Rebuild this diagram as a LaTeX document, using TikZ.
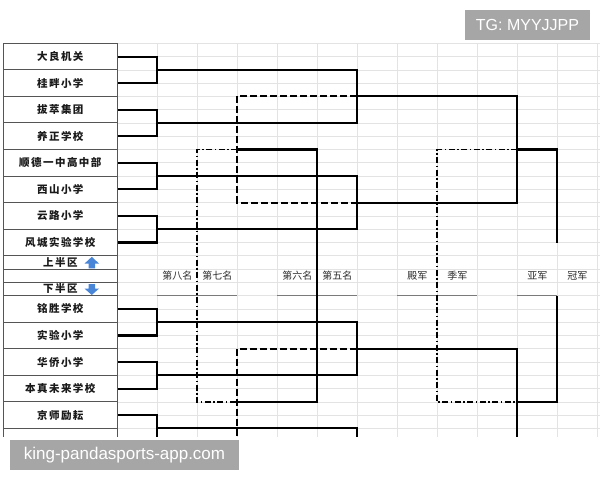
\documentclass[tikz,border=0pt]{standalone}
\usepackage{fontspec}
\setmainfont{Liberation Sans}
\newfontfamily\cjk{Noto Sans CJK SC}
\newfontfamily\cjkteam{Noto Sans CJK SC}[LetterSpace=14]
\definecolor{gridc}{HTML}{E3E3E3}
\definecolor{boxc}{HTML}{555555}
\definecolor{teamc}{HTML}{1A1A1A}
\definecolor{rankc}{HTML}{2E2E2E}
\definecolor{ulc}{HTML}{7A7A7A}
\definecolor{wmc}{HTML}{A6A6A6}
\definecolor{arrowc}{HTML}{4A86D8}
\begin{document}
\begin{tikzpicture}[x=1pt,y=-1pt,
  win/.style={line width=2.1pt, black},
  lose/.style={line width=1.9pt, black, dash pattern=on 7pt off 3pt},
  dd/.style={line width=1.7pt, black, dash pattern=on 6pt off 2.5pt on 1.5pt off 2.5pt},
  gridline/.style={gridc, line width=0.7pt},
  cell/.style={draw=boxc, line width=1pt, fill=white, minimum width=114pt, minimum height=26.56pt, inner sep=0pt, font=\cjkteam\bfseries\fontsize{10.5}{12}\selectfont, text=teamc},
  half/.style={cell, minimum height=13.28pt},
  rank/.style={font=\cjk\fontsize{10}{12}\selectfont, text=rankc, inner sep=0pt},
  uline/.style={ulc, line width=1.3pt},
  wm/.style={fill=wmc, text=white, inner sep=0pt},
  arrowshape/.style={fill=arrowc, draw=none}
]
\useasboundingbox (0,0) rectangle (600,480);
\fill[white] (0,0) rectangle (600,480);
\begin{scope}
\clip (0,0) rectangle (600,436.5);
% spreadsheet grid
\foreach \j in {0,...,31} \draw[gridline] (117.3,{43.3+13.28*\j}) -- (600,{43.3+13.28*\j});
\foreach \k in {0,...,12} \draw[gridline] ({117.3+40*\k},43.3) -- ({117.3+40*\k},437);
% rank labels and underlines
\draw[uline] (157.3,295.62) -- (237.3,295.62);
\draw[uline] (277.3,295.62) -- (357.3,295.62);
\draw[uline] (397.3,295.62) -- (477.3,295.62);
\draw[uline] (517.3,295.62) -- (557.3,295.62);
\node[rank] (r8) at (177.3,276) {第八名};
\node[rank] (r7) at (217.3,276) {第七名};
\node[rank] (r6) at (297.3,276) {第六名};
\node[rank] (r5) at (337.3,276) {第五名};
\node[rank] (r4) at (417.3,276) {殿军};
\node[rank] (r3) at (457.3,276) {季军};
\node[rank] (r2) at (537.3,276) {亚军};
\node[rank] (r1) at (577.3,276) {冠军};
% team boxes
\node[cell] (t1) at (60.3,56.58) {大良机关};
\node[cell] (t2) at (60.3,83.14) {桂畔小学};
\node[cell] (t3) at (60.3,109.70) {拔萃集团};
\node[cell] (t4) at (60.3,136.26) {养正学校};
\node[cell] (t5) at (60.3,162.82) {顺德一中高中部};
\node[cell] (t6) at (60.3,189.38) {西山小学};
\node[cell] (t7) at (60.3,215.94) {云路小学};
\node[cell] (t8) at (60.3,242.50) {风城实验学校};
\node[half] (h1) at (60.3,262.42) {上半区};
\node[half] (h2) at (60.3,275.70) {};
\node[half] (h3) at (60.3,288.98) {下半区};
\node[cell] (b1) at (60.3,308.90) {铭胜学校};
\node[cell] (b2) at (60.3,335.46) {实验小学};
\node[cell] (b3) at (60.3,362.02) {华侨小学};
\node[cell] (b4) at (60.3,388.58) {本真未来学校};
\node[cell] (b5) at (60.3,415.14) {京师励耘};
\node[cell] (b6) at (60.3,441.70) {};
% half arrows
\fill[arrowshape] (84.5,263.6) -- (91.8,256.8) -- (99,263.6) -- (95,263.6) -- (95,268.4) -- (88.6,268.4) -- (88.6,263.6) -- cycle;
\fill[arrowshape] (88.6,284) -- (95,284) -- (95,288.6) -- (99,288.6) -- (91.8,295) -- (84.5,288.6) -- (88.6,288.6) -- cycle;
% coordinates
\coordinate (m1) at (157.3,69.86);
\coordinate (m2) at (157.3,122.98);
\coordinate (m3) at (157.3,176.10);
\coordinate (m4) at (157.3,229.22);
\coordinate (mb1) at (157.3,322.18);
\coordinate (mb2) at (157.3,375.30);
\coordinate (mb3) at (157.3,428.42);
\coordinate (q1) at (357.3,96.42);
\coordinate (q2) at (357.3,202.66);
\coordinate (qb1) at (357.3,348.74);
\coordinate (qb2) at (357.3,454.98);
\coordinate (s1) at (517.3,149.54);
\coordinate (s2) at (517.3,401.86);
\coordinate (l1) at (237.3,149.54);
\coordinate (l2) at (237.3,401.86);
\coordinate (c56) at (317.3,275.7);
\coordinate (c78) at (197.3,275.7);
\coordinate (c34) at (437.3,275.7);
\coordinate (fA) at (557.3,242.5);
\coordinate (fB) at (557.3,295.62);
% losers' paths
\draw[lose] (q1) -| (l1) |- (q2);
\draw[lose] (qb1) -| (l2) |- (qb2);
\draw[dd] (l1) -| (c78) |- (l2);
\draw[dd] (s1) -| (c34) |- (s2);
% winners' paths
\draw[win] (t1.east) -| (m1) |- (t2.east);
\draw[win] (t3.east) -| (m2) |- (t4.east);
\draw[win] (t5.east) -| (m3) |- (t6.east);
\draw[win] (t7.east) -| (m4) |- (t8.east);
\draw[win] (b1.east) -| (mb1) |- (b2.east);
\draw[win] (b3.east) -| (mb2) |- (b4.east);
\draw[win] (b5.east) -| (mb3) |- (b6.east);
\draw[win] (m1) -| (q1) |- (m2);
\draw[win] (m3) -| (q2) |- (m4);
\draw[win] (mb1) -| (qb1) |- (mb2);
\draw[win] (mb3) -| (qb2);
\draw[win] (q1) -| (s1) |- (q2);
\draw[win] (qb1) -| (s2) |- (qb2);
\draw[win] (l1) -| (c56) |- (l2);
\draw[win] (s1) -| (fA);
\draw[win] (fB) |- (s2);
\end{scope}
% watermarks
\node[wm, minimum width=125pt, minimum height=30pt, font=\fontsize{16}{18}\selectfont] (tg) at (527.5,25) {TG: MYYJJPP};
\node[wm, minimum width=229pt, minimum height=30pt, font=\fontsize{17}{19}\selectfont] (site) at (124.5,455) {king-pandasports-app.com};
\end{tikzpicture}
\end{document}
